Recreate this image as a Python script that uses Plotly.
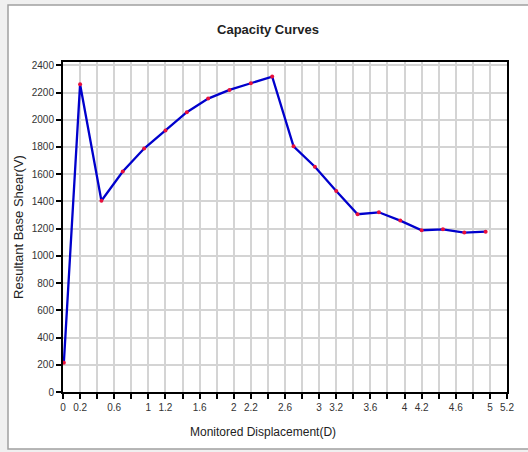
import plotly.graph_objects as go

displacement = [0.01, 0.2, 0.45, 0.7, 0.95, 1.2, 1.45, 1.7, 1.95, 2.2, 2.45,
                2.7, 2.95, 3.2, 3.45, 3.7, 3.95, 4.2, 4.45, 4.7, 4.95]
base_shear = [215, 2260, 1405, 1619, 1788, 1920, 2055, 2155, 2219, 2268, 2317,
              1805, 1655, 1477, 1306, 1320, 1259, 1188, 1195, 1171, 1178]

x_tick_vals = [round(i * 0.2, 1) for i in range(27)]
x_tick_labels = ["0", "0.2", "", "0.6", "", "1", "1.2", "", "1.6", "", "2", "2.2", "",
                 "2.6", "", "3", "3.2", "", "3.6", "", "4", "4.2", "", "4.6", "", "5", "5.2"]
y_tick_vals = list(range(0, 2401, 200))

fig = go.Figure()
fig.add_trace(go.Scatter(
    x=displacement, y=base_shear, mode="lines+markers",
    line=dict(color="#0000cc", width=2.3),
    marker=dict(color="#e8103c", size=4),
    showlegend=False,
))

W, H = 528, 452
L, R, T, B = 63, 21, 62, 60
pw, ph = W - L - R, H - T - B

def px_to_paper_x(px):
    return (px - L) / pw

def px_to_paper_y(py):
    return (H - B - py) / ph

fig.add_shape(type="rect", xref="paper", yref="paper",
              x0=px_to_paper_x(8), x1=px_to_paper_x(540),
              y0=px_to_paper_y(449), y1=px_to_paper_y(5),
              fillcolor="white", line=dict(color="#a0a0a0", width=1.5),
              layer="below")

fig.add_annotation(text="Monitored Displacement(D)", xref="paper", yref="paper",
                   x=px_to_paper_x(263), y=px_to_paper_y(432),
                   xanchor="center", yanchor="middle", showarrow=False,
                   font=dict(size=12, color="#222222"))

fig.update_layout(
    width=W, height=H,
    margin=dict(l=L, r=R, t=T, b=B),
    paper_bgcolor="#f0f0f0",
    plot_bgcolor="white",
    font=dict(family="Liberation Sans, Arial, sans-serif", color="#333333", size=10),
    title=dict(text="<b>Capacity Curves</b>", x=(268) / W, xanchor="center",
               y=1 - 29 / H, yanchor="middle",
               font=dict(size=13, color="#222222")),
    xaxis=dict(
        range=[0, 5.2], tickmode="array", tickvals=x_tick_vals, ticktext=x_tick_labels,
        showgrid=True, gridcolor="#d4d4d4", gridwidth=1.5,
        showline=True, mirror=True, linecolor="black", linewidth=2,
        ticks="outside", ticklen=5, tickcolor="black", tickwidth=1.5,
        zeroline=False,
    ),
    yaxis=dict(
        range=[0, 2424], tickmode="array", tickvals=y_tick_vals,
        showgrid=True, gridcolor="#d4d4d4", gridwidth=1.5,
        showline=True, mirror=True, linecolor="black", linewidth=2,
        ticks="outside", ticklen=5, tickcolor="black", tickwidth=1.5,
        zeroline=False,
        title=dict(text="Resultant Base Shear(V)", font=dict(size=13, color="#222222"),
                   standoff=5),
    ),
)

fig.write_html("out.html")
